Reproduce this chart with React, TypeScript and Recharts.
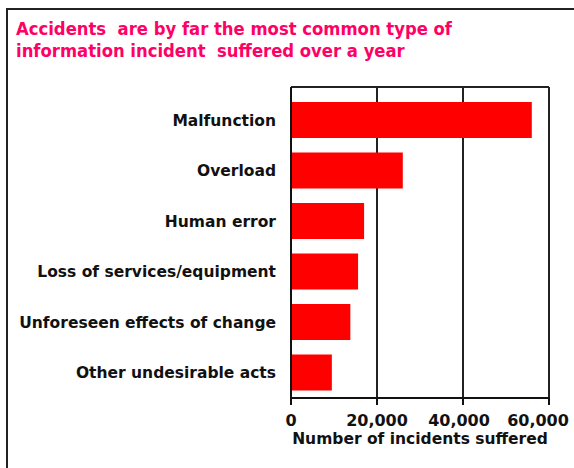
import React from "react";
import { BarChart, Bar, XAxis, YAxis, CartesianGrid, Label } from "recharts";

const categories = [
  "Malfunction",
  "Overload",
  "Human error",
  "Loss of services/equipment",
  "Unforeseen effects of change",
  "Other undesirable acts",
];
const incidents = [56000, 26000, 17000, 15600, 13800, 9500];
const xTicks = [0, 20000, 40000, 60000];
const xTickLabels = ["0", "20,000", "40,000", "60,000"];
const tickShift = [0, 0, -4, -11];

const titleLines = [
  "Accidents  are by far the most common type of",
  "information incident  suffered over a year",
];
const axisTitle = "Number of incidents suffered";

const data = categories.map((name, i) => ({ name, value: incidents[i] }));

const FONT = "'DejaVu Sans', Verdana, sans-serif";
const TITLE_FONT = "'DejaVu Sans Condensed', 'DejaVu Sans', sans-serif";

const XTick = (props: any) => {
  const { x, y, payload, index } = props;
  return (
    <text
      x={x + (tickShift[index] || 0)}
      y={y}
      dy={19}
      textAnchor="middle"
      fontFamily={FONT}
      fontWeight="bold"
      fontSize={16}
      fill="#111"
    >
      {xTickLabels[index] ?? payload.value}
    </text>
  );
};

export default function App() {
  return (
    <div
      style={{
        position: "absolute",
        left: 0,
        top: 0,
        width: 574,
        height: 468,
        overflow: "hidden",
        background: "#fff",
        fontFamily: FONT,
      }}
    >
      <div
        style={{
          position: "absolute",
          left: 6,
          top: 8,
          width: 620,
          height: 520,
          border: "2px solid #222",
          boxSizing: "border-box",
        }}
      />
      <div
        style={{
          position: "absolute",
          left: 16,
          top: 18,
          fontFamily: TITLE_FONT,
          fontSize: 18.3,
          lineHeight: "22px",
          fontWeight: "bold",
          color: "#FF0066",
          whiteSpace: "pre",
        }}
      >
        {titleLines.map((l, i) => (
          <div key={i}>{l}</div>
        ))}
      </div>
      <div style={{ position: "absolute", left: 0, top: 0 }}>
        <BarChart
          width={574}
          height={468}
          data={data}
          layout="vertical"
          margin={{ top: 87, right: 25, bottom: 24, left: 0 }}
          barSize={36}
        >
          <CartesianGrid
            stroke="#222"
            strokeWidth={2}
            strokeOpacity={1}
            horizontalCoordinatesGenerator={(p: any) => [
              p.offset.top,
              p.offset.top + p.offset.height,
            ]}
          />
          <XAxis
            type="number"
            domain={[0, 60000]}
            ticks={xTicks}
            interval={0}
            height={46}
            tickSize={7}
            tickMargin={2}
            axisLine={{ stroke: "#111", strokeWidth: 2 }}
            tickLine={{ stroke: "#111", strokeWidth: 2 }}
            tick={<XTick />}
          >
            <Label
              value={axisTitle}
              position="insideBottom"
              offset={0}
              style={{
                fontFamily: FONT,
                fontWeight: "bold",
                fontSize: 15.5,
                fill: "#111",
              }}
            />
          </XAxis>
          <YAxis
            type="category"
            dataKey="name"
            width={291}
            padding={{ top: 8, bottom: 0 }}
            tickLine={false}
            tickSize={0}
            tickMargin={15}
            interval={0}
            axisLine={{ stroke: "#111", strokeWidth: 2 }}
            tick={{
              fontFamily: FONT,
              fontWeight: "bold",
              fontSize: 15.5,
              fill: "#111",
            }}
          />
          <Bar dataKey="value" fill="#FF0000" isAnimationActive={false} />
        </BarChart>
      </div>
    </div>
  );
}
